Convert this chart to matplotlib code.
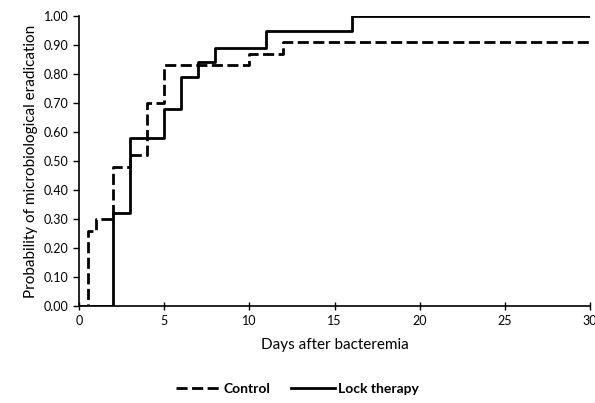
import matplotlib.pyplot as plt

plt.rcParams["font.family"] = ["Lato", "DejaVu Sans"]

# step times (days) and survival-curve probabilities
control_days = [0, 0.5, 1, 2, 3, 4, 5, 10, 12, 30]
control_prob = [0.0, 0.26, 0.30, 0.48, 0.52, 0.70, 0.83, 0.87, 0.91, 0.91]

lock_days = [0, 2, 3, 5, 6, 7, 8, 11, 16, 30]
lock_prob = [0.0, 0.32, 0.58, 0.68, 0.79, 0.84, 0.89, 0.95, 1.0, 1.0]

x_ticks = [0, 5, 10, 15, 20, 25, 30]
y_ticks = [i / 10 for i in range(11)]


def main() -> None:
    fig = plt.figure(figsize=(5.95, 4.03), dpi=100)
    ax = fig.add_axes([79 / 595, 1 - 306 / 403, (590 - 79) / 595, (306 - 16) / 403])

    ax.step(control_days, control_prob, where="post", color="black", linewidth=2,
            linestyle=(0, (4, 1.6)), label="Control")
    ax.step(lock_days, lock_prob, where="post", color="black", linewidth=2,
            label="Lock therapy")

    ax.set_xlim(0, 30)
    ax.set_ylim(0, 1.0)
    ax.set_xticks(x_ticks)
    ax.set_yticks(y_ticks, [f"{v:.2f}" for v in y_ticks])
    ax.tick_params(axis="both", labelsize=9, length=4, width=1, direction="out")
    ax.tick_params(axis="x", direction="inout", length=6)
    ax.spines[["top", "right"]].set_visible(False)
    ax.spines[["left", "bottom"]].set_linewidth(1.2)

    ax.set_xlabel("Days after bacteremia", fontsize=11, labelpad=8)
    ax.set_ylabel("Probability of microbiological eradication", fontsize=11)

    fig.legend(loc="lower center", bbox_to_anchor=(0.5, -0.01), ncols=2, frameon=False,
               prop={"weight": "bold", "size": 10}, handlelength=3.2, columnspacing=1.5,
               handletextpad=0.2)

    fig.savefig("out.png", dpi=100)
    plt.close(fig)


if __name__ == "__main__":
    main()
